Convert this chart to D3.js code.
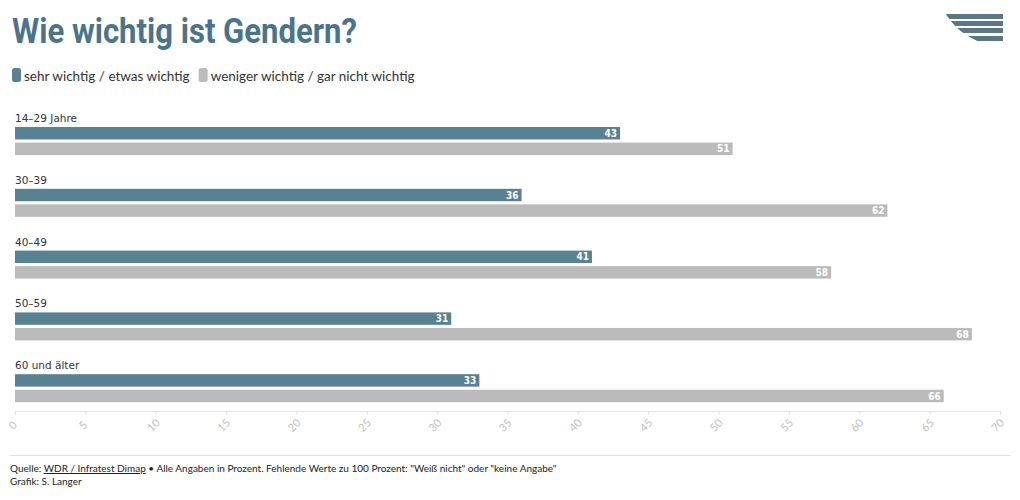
<!DOCTYPE html>
<html><head><meta charset="utf-8">
<script src="https://cdn.jsdelivr.net/npm/d3@7"></script>
<style>body{margin:0;background:#fff}svg{display:block}</style>
</head><body>
<svg id="c" width="1020" height="500"></svg>
<script>
const categories = ["14–29 Jahre","30–39","40–49","50–59","60 und älter"];
const series = ["sehr wichtig / etwas wichtig","weniger wichtig / gar nicht wichtig"];
const important = [43,36,41,31,33];
const notImportant = [51,62,58,68,66];
const ticks = [0,5,10,15,20,25,30,35,40,45,50,55,60,65,70];
const colors = ["#588292","#bbbbbb"];

const svg = d3.select("#c");
// Title
svg.append("text").attr("x",12).attr("y",43)
  .attr("font-family","Roboto").attr("font-weight",700).attr("font-size",35)
  .attr("fill","#4b7488").attr("textLength",345).attr("lengthAdjust","spacingAndGlyphs")
  .text("Wie wichtig ist Gendern?");

// Logo
const defs = svg.append("defs");
defs.append("clipPath").attr("id","lc").append("circle").attr("cx",1003).attr("cy",-21).attr("r",67);
const logo = svg.append("g").attr("clip-path","url(#lc)");
[[14,5],[21,5],[28,5],[36,5]].forEach(([y,h])=>{
  logo.append("rect").attr("x",930).attr("y",y).attr("width",73).attr("height",h).attr("fill","#5b7786");
});

// Legend
const leg = svg.append("g");
let lx = 12;
series.forEach((s,i)=>{
  leg.append("rect").attr("x",lx).attr("y",68).attr("width",9).attr("height",14).attr("rx",2.5).attr("fill",colors[i]);
  const t = leg.append("text").attr("x",lx+12).attr("y",81).attr("font-family","Lato").attr("font-size",13.5).attr("fill","#333").text(s);
  lx += 12 + t.node().getComputedTextLength() + 9;
});

const x = d3.scaleLinear().domain([0,70]).range([15,1000]);
const y0 = d3.scaleBand().domain(categories).range([110,419]);
const y1 = d3.scaleBand().domain(series).range([17,45]).paddingInner(0.2);

const data = categories.map((c,i)=>({cat:c, vals:[important[i], notImportant[i]]}));
const g = svg.append("g");
const grp = g.selectAll("g.grp").data(data).join("g").attr("transform",d=>`translate(0,${y0(d.cat)})`);
grp.append("text").attr("x",15).attr("y",12).attr("font-family","DejaVu Sans").attr("font-size",10.5).attr("fill","#333").text(d=>d.cat);
grp.selectAll("rect").data(d=>d.vals.map((v,j)=>({v,s:series[j],j}))).join("rect")
  .attr("x",x(0)).attr("y",d=>y1(d.s)).attr("height",y1.bandwidth()).attr("width",d=>x(d.v)-x(0)).attr("fill",d=>colors[d.j]);
grp.selectAll("text.val").data(d=>d.vals.map((v,j)=>({v,s:series[j],j}))).join("text").attr("class","val")
  .attr("x",d=>x(d.v)-3).attr("y",d=>y1(d.s)+y1.bandwidth()/2+3.6).attr("text-anchor","end")
  .attr("font-family","DejaVu Sans Condensed").attr("font-weight",700).attr("font-size",10).attr("fill","#fff").text(d=>d.v);

// Axis
const ax = svg.append("g").attr("transform","translate(0,411)")
  .call(d3.axisBottom(x).tickValues(ticks).tickSize(4).tickFormat(d3.format("d")));
ax.select(".domain").attr("stroke","#e3e3e3");
ax.selectAll(".tick line").attr("stroke","#e3e3e3");
ax.selectAll(".tick text").attr("font-family","Lato").attr("font-size",11).attr("fill","#c0c0c0")
  .attr("text-anchor","middle").attr("dy",0).attr("y",0)
  .attr("transform","translate(0,17) rotate(-45)");

// Footer
svg.append("line").attr("x1",10).attr("x2",1010).attr("y1",455.5).attr("y2",455.5).attr("stroke","#e0e0e0");
const f1 = svg.append("text").attr("x",10).attr("y",472).attr("font-family","Lato").attr("font-size",10).attr("fill","#222");
f1.append("tspan").text("Quelle: ");
f1.append("tspan").attr("text-decoration","underline").text("WDR / Infratest Dimap");
f1.append("tspan").text(" • Alle Angaben in Prozent. Fehlende Werte zu 100 Prozent: \"Weiß nicht\" oder \"keine Angabe\"");
svg.append("text").attr("x",10).attr("y",485).attr("font-family","Lato").attr("font-size",10).attr("fill","#222").text("Grafik: S. Langer");
</script>
</body></html>
